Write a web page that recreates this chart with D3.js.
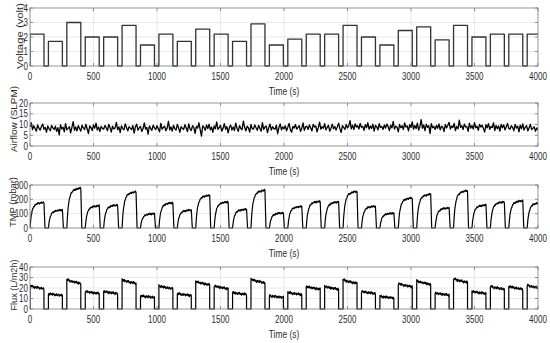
<!DOCTYPE html>
<meta charset="utf-8">
<head>
  <title>Filtration run</title>
</head>

<style>
body {
  margin: 0;
  background: #fff;
  font-family: "Liberation Sans", Arial, Helvetica, sans-serif;
}
text {
  fill: #2b2b2b;
}
</style>

<body>
  <svg width="550" height="343"></svg>

  <script src="https://cdnjs.cloudflare.com/ajax/libs/d3/7.8.5/d3.min.js"></script>

  <script>
// Time axis
var timeTicks = [0, 500, 1000, 1500, 2000, 2500, 3000, 3500, 4000];

// Cycle start times (s) and length of the "on" phase
var cycleStart = [0, 145, 290, 435, 580, 725, 870, 1015, 1160, 1305, 1450, 1595, 1740, 1885,
  2030, 2175, 2320, 2465, 2610, 2755, 2900, 3045, 3190, 3335, 3480, 3625, 3770, 3915];
var onTime = 110;

// Voltage set point per cycle (volt)
var voltLevel = [2.2, 1.7, 3.0, 2.0, 2.0, 2.8, 1.45, 2.2, 1.7, 2.55, 2.2, 1.7, 2.9, 1.45,
  1.85, 2.2, 2.2, 2.8, 2.0, 1.45, 2.45, 2.7, 1.8, 2.8, 2.0, 2.2, 2.2, 2.2];

// TMP plateau per cycle (mbar)
var tmpPeak = [178, 125, 278, 155, 160, 252, 100, 176, 125, 228, 182, 130, 263, 105,
  150, 186, 182, 255, 152, 103, 210, 235, 140, 260, 160, 182, 190, 176];

// Mean flux per cycle (L/m2h)
var fluxLevel = [21, 14, 26.5, 16, 16, 26.5, 12, 21, 14, 25, 21, 15, 27, 12,
  15, 20.5, 20.5, 26.5, 16, 11.5, 23, 25.5, 14.5, 27.5, 16, 20.5, 20.5, 21.5];

// Shape inside one cycle, sampled every 5 s from cycle start
var cycleOffsets = [0, 5, 10, 15, 20, 25, 30, 35, 40, 45, 50, 55, 60, 65, 70, 75, 80, 85, 90, 95, 100, 105, 110];
var tmpShape = [0, 0.3, 0.5, 0.63, 0.72, 0.79, 0.84, 0.875, 0.9, 0.92, 0.935, 0.947, 0.957,
  0.965, 0.97, 0.975, 0.98, 0.985, 0.99, 0.993, 0.996, 1.0, 1.0];
var fluxShape = [1.05, 1.045, 1.04, 1.03, 1.02, 1.01, 1.0, 0.995, 0.99, 0.985, 0.98, 0.975, 0.97,
  0.965, 0.96, 0.955, 0.95, 0.945, 0.94, 0.935, 0.93, 0.925, 0.92];

// measurement wobble seen on the TMP and flux traces
var wobble = [0.3, -0.8, 0.6, -0.2, 0.9, -0.5, 0.1, -1.0, 0.7, -0.3, 0.4, -0.7, 1.0, -0.1, 0.5, -0.9,
  0.2, -0.4, 0.8, -0.6, 0.0, 0.6, -0.8, 0.3, -0.2, 0.9, -0.5, 0.4, -1.0, 0.7, -0.3];

// Airflow (SLPM), one reading every 10 s from 0 to 4000 s
var airflow = [
  8.9,10.8,7.6,9.4,8.1,6.9,9.8,8.3,7.4,9.1,10.2,7.8,8.6,6.4,9.3,8.0,7.1,9.6,8.4,7.7,
  9.2,6.8,8.5,5.2,9.9,7.9,8.8,6.6,10.4,7.5,8.2,9.0,6.1,8.7,11.3,7.3,8.9,7.0,9.5,8.1,
  6.9,9.7,8.4,7.6,10.1,8.0,5.8,9.3,8.6,7.2,9.8,8.3,10.6,7.4,8.8,6.7,9.1,8.2,7.8,9.6,
  8.5,7.1,10.0,8.7,6.5,9.2,7.9,8.4,11.0,7.6,8.9,6.2,9.4,8.1,7.5,10.3,8.6,7.0,9.0,8.3,
  7.7,9.5,6.0,8.8,10.2,7.4,8.5,9.1,6.8,8.0,10.7,7.9,8.6,5.5,9.3,8.2,7.3,9.7,8.4,7.6,
  9.4,8.0,6.6,10.5,7.8,8.7,9.2,7.1,8.3,11.5,7.5,8.9,6.9,9.6,8.1,7.4,10.0,8.5,6.3,9.0,
  8.2,7.7,9.9,8.4,6.7,10.3,8.0,7.2,9.5,8.6,5.9,9.1,8.3,10.8,7.6,4.6,9.4,8.7,7.3,9.8,
  8.1,10.1,7.5,8.8,6.4,9.3,8.0,11.2,7.7,8.5,9.6,6.9,8.2,10.4,7.8,9.0,6.1,8.6,9.7,7.4,
  8.9,7.2,10.6,8.3,6.8,9.5,8.1,7.6,11.6,8.7,7.0,9.2,8.4,6.5,10.0,8.0,7.9,9.8,8.5,7.3,
  9.6,8.2,6.9,10.9,7.7,8.8,9.3,6.2,8.5,10.2,7.4,9.0,8.1,7.8,9.7,5.7,8.6,10.3,7.5,8.9,
  8.0,9.4,7.1,8.7,10.5,7.6,6.4,9.1,8.3,10.0,7.9,8.6,9.5,6.8,8.2,10.7,7.3,8.9,9.2,7.7,
  9.8,8.4,7.0,10.1,8.8,9.3,6.6,8.5,11.1,7.8,9.0,8.2,10.4,7.5,8.7,9.6,6.9,8.3,10.2,8.0,
  9.1,7.4,8.9,10.6,8.1,6.3,9.5,8.6,7.7,10.0,8.4,9.2,11.8,8.0,9.7,7.6,10.3,8.8,9.4,7.9,
  10.5,8.7,9.1,7.3,9.9,8.5,10.8,7.8,9.3,8.2,10.1,6.9,9.6,8.9,7.5,10.4,8.6,9.0,7.7,9.8,
  8.3,10.2,9.0,7.2,9.7,8.4,11.4,7.9,9.2,8.7,6.6,10.0,8.5,9.4,7.6,10.7,8.8,9.3,7.0,9.9,
  8.6,11.2,7.8,9.5,8.1,10.6,7.4,9.0,12.3,8.3,9.8,7.1,10.1,8.7,9.4,5.9,10.4,8.5,9.1,7.7,
  9.6,8.2,10.3,7.5,9.2,8.8,6.7,10.0,8.4,9.7,11.0,7.9,9.3,8.6,10.5,7.2,9.1,8.0,12.0,8.7,
  9.4,7.6,10.2,8.9,9.0,6.8,10.6,8.3,9.5,7.9,10.9,8.5,9.2,7.3,10.0,8.8,9.7,8.1,6.5,9.9,
  8.4,10.4,7.7,9.1,8.6,10.8,7.2,9.6,8.0,9.3,6.9,10.1,8.5,9.8,7.5,8.9,10.5,8.2,7.8,9.4,
  8.7,7.1,10.0,8.3,9.2,6.6,9.7,8.0,10.3,7.4,8.8,9.5,7.0,8.5,10.1,7.6,8.2,9.0,6.8,8.4,
  7.5
];

// Build the traces
var voltPts = [];
cycleStart.forEach(function(s, i) {
  voltPts.push([s, 0], [s, voltLevel[i]], [s + onTime, voltLevel[i]], [s + onTime, 0]);
});
voltPts.push([4000, 0]);

var tmpPts = [];
cycleStart.forEach(function(s, i) {
  cycleOffsets.forEach(function(o, j) {
    var w = wobble[(i * 7 + j) % wobble.length];
    tmpPts.push([s + o, tmpPeak[i] * tmpShape[j] + w * 7 * tmpShape[j]]);
  });
  tmpPts.push([s + onTime + 8, 0]);
});
tmpPts.push([4000, 0]);

var fluxPts = [];
cycleStart.forEach(function(s, i) {
  fluxPts.push([s, 0]);
  cycleOffsets.forEach(function(o, j) {
    var w = wobble[(i * 5 + j) % wobble.length];
    fluxPts.push([s + o, fluxLevel[i] * fluxShape[j] + w * 1.3]);
  });
  fluxPts.push([s + onTime, 0]);
});
fluxPts.push([4000, 0]);

var airPts = airflow.map(function(v, i) { return [i * 10, v]; });

// layout per panel (labelX = baseline of the rotated title, labelY = its centre, labelLen = its length)
var panels = [
  {label: 'Voltage (volt)', top: 8, bottom: 66, ticks: [0, 1, 2, 3, 4], data: voltPts,
    color: '#333', width: 1.3, labelX: 23, labelY: 36, labelLen: 66},
  {label: 'Airflow (SLPM)', top: 103, bottom: 146, ticks: [0, 5, 10, 15, 20], data: airPts,
    color: '#000', width: 1.3, labelX: 17, labelY: 119, labelLen: 66},
  {label: 'TMP (mbar)', top: 185, bottom: 228, ticks: [0, 100, 200, 300], data: tmpPts,
    color: '#000', width: 1.2, labelX: 16, labelY: 202, labelLen: 50},
  {label: 'Flux (L/m2h)', top: 267, bottom: 309, ticks: [0, 10, 20, 30, 40], data: fluxPts,
    color: '#000', width: 1.2, labelX: 17, labelY: 285, labelLen: 51}
];

var svg = d3.select('svg');
var left = 30, right = 538;
var squeeze = 0.8;   // horizontal text in the figure is narrow

var x = d3.scaleLinear().domain([0, 4000]).range([left, right]);

panels.forEach(function(p, k) {
  var y = d3.scaleLinear()
    .domain([0, p.ticks[p.ticks.length - 1]])
    .range([p.bottom, p.top]);

  var g = svg.append('g');

  // grid
  g.selectAll('.vg').data(timeTicks.slice(1, -1)).enter().append('line')
    .attr('x1', x).attr('x2', x)
    .attr('y1', p.top).attr('y2', p.bottom)
    .attr('stroke', '#e3e3e3').attr('stroke-width', 0.8);
  g.selectAll('.hg').data(p.ticks.slice(1, -1)).enter().append('line')
    .attr('x1', left).attr('x2', right)
    .attr('y1', y).attr('y2', y)
    .attr('stroke', '#e3e3e3').attr('stroke-width', 0.8);

  // trace
  g.append('clipPath').attr('id', 'clip' + k)
    .append('rect')
    .attr('x', left).attr('y', p.top - 1)
    .attr('width', right - left).attr('height', p.bottom - p.top + 2);

  var line = d3.line()
    .x(function(d) { return x(d[0]); })
    .y(function(d) { return y(d[1]); });

  g.append('path')
    .attr('clip-path', 'url(#clip' + k + ')')
    .attr('d', line(p.data))
    .attr('fill', 'none')
    .attr('stroke', p.color)
    .attr('stroke-width', p.width)
    .attr('stroke-linejoin', 'round');

  // box
  g.append('rect')
    .attr('x', left).attr('y', p.top)
    .attr('width', right - left).attr('height', p.bottom - p.top)
    .attr('fill', 'none').attr('stroke', '#7a7a7a').attr('stroke-width', 0.8);

  // inward ticks on all sides
  timeTicks.forEach(function(t) {
    g.append('line').attr('x1', x(t)).attr('x2', x(t))
      .attr('y1', p.bottom).attr('y2', p.bottom - 3).attr('stroke', '#7a7a7a').attr('stroke-width', 0.8);
    g.append('line').attr('x1', x(t)).attr('x2', x(t))
      .attr('y1', p.top).attr('y2', p.top + 3).attr('stroke', '#7a7a7a').attr('stroke-width', 0.8);
  });
  p.ticks.forEach(function(t) {
    g.append('line').attr('x1', left).attr('x2', left + 3)
      .attr('y1', y(t)).attr('y2', y(t)).attr('stroke', '#7a7a7a').attr('stroke-width', 0.8);
    g.append('line').attr('x1', right).attr('x2', right - 3)
      .attr('y1', y(t)).attr('y2', y(t)).attr('stroke', '#7a7a7a').attr('stroke-width', 0.8);
  });

  // tick labels
  g.selectAll('.xt').data(timeTicks).enter().append('text')
    .attr('transform', function(d) { return 'translate(' + x(d) + ',' + (p.bottom + 14) + ') scale(' + squeeze + ',1)'; })
    .attr('text-anchor', 'middle')
    .style('font-size', '10px')
    .text(function(d) { return d; });
  g.selectAll('.yt').data(p.ticks).enter().append('text')
    .attr('transform', function(d) { return 'translate(' + (left - 2) + ',' + (y(d) + 3.5) + ') scale(' + squeeze + ',1)'; })
    .attr('text-anchor', 'end')
    .style('font-size', '10px')
    .text(function(d) { return d; });

  // axis titles
  g.append('text')
    .attr('transform', 'translate(' + ((left + right) / 2) + ',' + (p.bottom + 29) + ') scale(' + squeeze + ',1)')
    .attr('text-anchor', 'middle')
    .style('font-size', '10.5px')
    .text('Time (s)');
  g.append('text')
    .attr('transform', 'translate(' + p.labelX + ',' + p.labelY + ') rotate(-90) scale(1,' + squeeze + ')')
    .attr('x', -p.labelLen / 2)
    .attr('textLength', p.labelLen)
    .attr('lengthAdjust', 'spacingAndGlyphs')
    .style('font-size', '11px')
    .text(p.label);
});
  </script>
</body>
</html>
